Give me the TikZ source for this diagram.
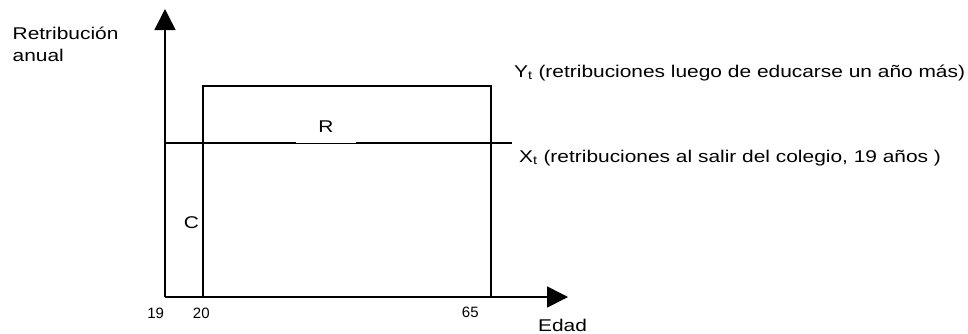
\documentclass[tikz,border=0pt]{standalone}
\usepackage{fontspec}
\setmainfont{Liberation Sans}
\newfontfamily\widesans[FakeStretch=1.23]{Liberation Sans}
\usetikzlibrary{arrows.meta}
\begin{document}
\begin{tikzpicture}[x=1pt,y=-1pt,
  line/.style={line width=1.6pt},
  axis/.style={line width=1.6pt,-{Triangle[length=21pt,width=21pt]}},
  lbl/.style={font=\widesans\fontsize{17}{22}\selectfont,inner sep=0pt},
  tick/.style={font=\fontsize{15}{17}\selectfont,inner sep=0pt}]
\useasboundingbox (0,0) rectangle (968,333);
% axes
\coordinate (o) at (165,297);
\coordinate (ytop) at (165,9);
\coordinate (xend) at (568,297);
\draw[axis] (o) -- (ytop);
\draw[axis] (o) -- (xend);
% box of earnings after one more year of study
\coordinate (b1) at (203,297);
\coordinate (b2) at (203,86);
\coordinate (b3) at (491,86);
\coordinate (b4) at (491,297);
\draw[line] (b1) -- (b2) -- (b3) -- (b4);
% earnings line on leaving school
\coordinate (xs) at (165,143);
\coordinate (xe) at (512,143);
\draw[line] (xs) -- (xe);
% labels
\node[lbl,anchor=base west] (ylab1) at (12.5,39) {Retribución};
\node[lbl,anchor=base west] (ylab2) at (12.5,61) {anual};
\node[lbl,anchor=base west] (yt) at (514,77) {Y\textsubscript{t} (retribuciones luego de educarse un año más)};
\node[lbl,anchor=base west] (xt) at (519,162) {X\textsubscript{t} (retribuciones al salir del colegio, 19 años )};
\node[lbl,fill=white,inner xsep=22pt,inner ysep=10.5pt,anchor=south] (r) at (326,143) {R};
\node[lbl] (c) at (191.5,222.5) {C};
\node[tick] (t19) at (155.7,313) {19};
\node[tick] (t20) at (201.3,313) {20};
\node[tick] (t65) at (470.3,312.7) {65};
\node[lbl] (edad) at (562.5,325) {Edad};
\end{tikzpicture}
\end{document}
